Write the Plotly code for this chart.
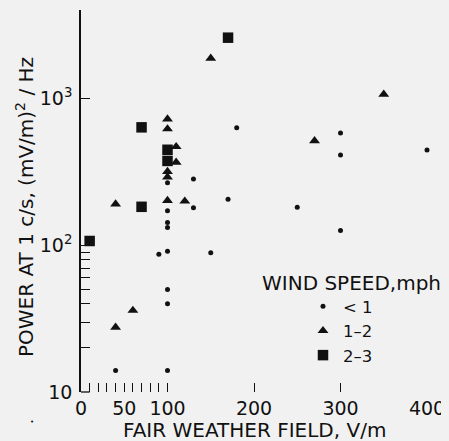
import plotly.graph_objects as go

# Fair weather field (V/m) and power at 1 c/s ((mV/m)^2/Hz), by wind speed class
calm_x = [100, 100, 100, 90, 150, 100, 100, 100, 40, 100, 130, 130, 170, 180, 250, 300, 300, 300, 400, 100]
calm_y = [143, 132, 91, 87, 89, 50, 40, 14, 14, 172, 283, 180, 206, 633, 182, 583, 413, 126, 446, 267]

mid_x = [100, 100, 110, 110, 100, 100, 100, 120, 40, 60, 40, 150, 270, 350]
mid_y = [726, 621, 470, 368, 318, 292, 202, 200, 191, 36, 27.6, 1883, 516, 1069]

high_x = [10, 70, 70, 100, 100, 170]
high_y = [107, 637, 183, 448, 376, 2602]

series_names = ["< 1", "1–2", "2–3"]
legend_title = "WIND SPEED,mph"
x_title = "FAIR WEATHER FIELD, V/m"
y_title = "POWER AT 1 c/s, (mV/m)<sup>2</sup> / Hz"

x_tickvals = [0, 10, 20, 30, 40, 50, 60, 70, 80, 90, 100, 200, 300, 400]
x_ticktext = ["0", "", "", "", "", "50", "", "", "", "", "100", "200", "300", "400"]
y_tickvals = [10, 20, 30, 40, 50, 60, 70, 80, 90, 100, 1000]
y_ticktext = ["10", "", "", "", "", "", "", "", "", "10<sup>2</sup>", "10<sup>3</sup>"]

INK = "#111111"
BG = "#f1f1f1"
FONT = "DejaVu Sans"

OFF = 8  # page body margin
W, H = 449 - OFF, 441 - OFF
L, R, T, B = 73, 22, 2, 49
PW, PH = W - L - R, H - T - B


def px_to_paper(px, py):
    return (px - OFF - L) / PW, (H - B - (py - OFF)) / PH


fig = go.Figure()
fig.add_trace(go.Scatter(x=calm_x, y=calm_y, mode="markers", name=series_names[0],
                         marker=dict(symbol="circle", size=5, color=INK), cliponaxis=False))
fig.add_trace(go.Scatter(x=mid_x, y=mid_y, mode="markers", name=series_names[1],
                         marker=dict(symbol="triangle-up", size=9.5, color=INK), cliponaxis=False))
fig.add_trace(go.Scatter(x=high_x, y=high_y, mode="markers", name=series_names[2],
                         marker=dict(symbol="square", size=10.5, color=INK), cliponaxis=False))

lt_x, lt_y = px_to_paper(260, 283)
xt_x, xt_y = px_to_paper(254, 430)
yt_x, yt_y = px_to_paper(25, 207)
dot_x, dot_y = px_to_paper(32, 421.7)
lg_x, lg_y = px_to_paper(303, 289)

fig.update_layout(
    width=W, height=H, autosize=False,
    margin=dict(l=L, r=R, t=T, b=B),
    paper_bgcolor=BG, plot_bgcolor=BG,
    font=dict(family=FONT, color=INK, size=19),
    showlegend=True,
    legend=dict(x=lg_x, y=lg_y, xanchor="left", yanchor="top",
                bgcolor="rgba(0,0,0,0)", font=dict(size=16.5, family=FONT, color=INK),
                itemsizing="trace"),
    xaxis=dict(range=[0, 400], automargin=False, showline=False, showgrid=False, zeroline=False,
               tickmode="array", tickvals=x_tickvals, ticktext=x_ticktext,
               ticks="inside", ticklen=9, tickwidth=1.3, tickcolor=INK,
               tickfont=dict(size=19, family=FONT, color=INK), ticklabelstandoff=3),
    yaxis=dict(type="log", range=[1, 3.604], automargin=False, showline=True, linecolor=INK, linewidth=1.5,
               showgrid=False, zeroline=False,
               tickmode="array", tickvals=y_tickvals, ticktext=y_ticktext,
               ticks="inside", ticklen=9, tickwidth=1.3, tickcolor=INK,
               tickfont=dict(size=19, family=FONT, color=INK), ticklabelstandoff=3),
    shapes=[dict(type="line", xref="x", yref="paper", x0=0, x1=10, y0=0, y1=0,
                 line=dict(color=INK, width=1.3))],
    annotations=[
        dict(text=legend_title, xref="paper", yref="paper", x=lt_x, y=lt_y,
             xanchor="left", yanchor="middle", showarrow=False,
             font=dict(size=20, family=FONT, color=INK)),
        dict(text=x_title, xref="paper", yref="paper", x=xt_x, y=xt_y,
             xanchor="center", yanchor="middle", showarrow=False,
             font=dict(size=20, family=FONT, color=INK)),
        dict(text=y_title, xref="paper", yref="paper", x=yt_x, y=yt_y, textangle=-90,
             xanchor="center", yanchor="middle", showarrow=False,
             font=dict(size=20, family=FONT, color=INK)),
        dict(text="•", xref="paper", yref="paper", x=dot_x, y=dot_y,
             xanchor="center", yanchor="middle", showarrow=False,
             font=dict(size=7, family=FONT, color=INK)),
    ],
)

fig.write_html("out.html", post_script="document.body.style.background = '%s';" % BG)
